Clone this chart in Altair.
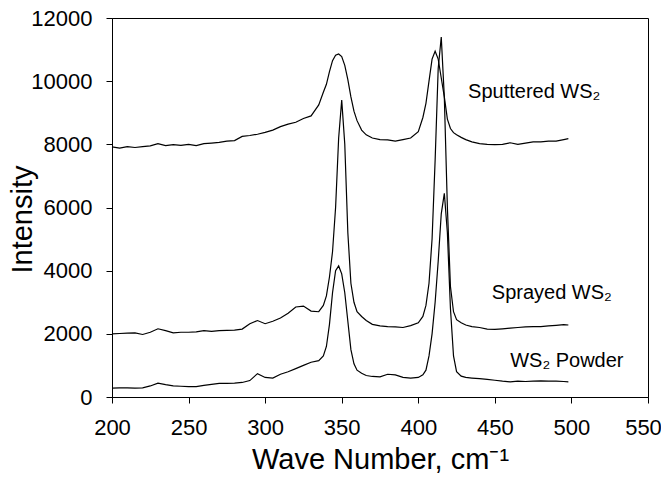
import altair as alt
import pandas as pd

wavenumber = [200,205,210,215,220,225,230,235,240,245,250,255,260,265,270,275,280,285,290,295,
              300,305,310,315,320,325,330,335,338,340,342,344,346,348,350,352,354,356,358,360,
              363,366,370,375,380,385,390,395,400,403,405,407,409,411,413,415,417,419,421,423,
              425,428,431,435,440,445,450,455,460,465,470,475,480,485,490,495,498]

sputtered = [7920,7880,7930,7900,7930,7950,8020,7960,7990,7970,8000,7960,8020,8040,8060,8100,8120,8250,8280,8320,
             8380,8450,8560,8640,8700,8820,8900,9250,9650,9900,10300,10650,10820,10860,10780,10500,10050,9500,9050,8750,
             8450,8300,8200,8150,8140,8100,8150,8200,8400,8850,9300,10000,10700,10950,10700,10100,9500,8800,8500,8370,
             8300,8220,8150,8080,8020,8000,7990,8000,8050,8000,8040,8080,8080,8100,8100,8150,8180]

sprayed = [2000,2010,2020,2030,1980,2050,2160,2100,2030,2050,2050,2060,2100,2080,2100,2110,2120,2150,2320,2420,
           2320,2400,2500,2650,2850,2880,2720,2700,2900,3200,3800,4600,6000,8200,9400,8000,5200,3600,3000,2700,
           2550,2420,2300,2250,2230,2220,2200,2260,2350,2550,2900,3600,5000,7500,10400,11400,9500,6000,3500,2700,
           2450,2350,2280,2230,2200,2150,2140,2160,2180,2200,2220,2230,2230,2250,2270,2290,2280]

powder = [280,290,290,280,290,350,440,390,350,340,330,330,370,400,430,430,440,460,520,740,
          620,600,720,800,900,1000,1100,1150,1300,1600,2300,3300,4000,4150,3900,3300,2400,1500,1050,850,
          750,680,650,640,720,700,620,600,620,700,850,1300,2000,3000,4300,5800,6450,5200,2800,1300,
          800,660,620,600,580,560,530,500,480,500,490,500,510,500,500,490,480]

series_names = ["Sputtered", "Sprayed", "Powder"]

label_text = ["Sputtered WS\u2082", "Sprayed WS\u2082", "WS\u2082 Powder"]
label_x = [432.5, 448, 460]
label_y = [9650, 3280, 1150]

x_ticks = [200, 250, 300, 350, 400, 450, 500, 550]
y_ticks = [0, 2000, 4000, 6000, 8000, 10000, 12000]

rows = []
for name, vals in zip(series_names, [sputtered, sprayed, powder]):
    for x, y in zip(wavenumber, vals):
        rows.append({"series": name, "x": x, "y": y})
df = pd.DataFrame(rows)
labels = pd.DataFrame({"text": label_text, "x": label_x, "y": label_y})

FONT = "Liberation Sans"

xscale = alt.Scale(domain=[200, 550], nice=False, zero=False)
yscale = alt.Scale(domain=[0, 12000], nice=False)

common = dict(grid=False, tickSize=6, labelFlush=False, labelFont=FONT, titleFont=FONT,
              labelFontSize=22, titleFontSize=29, labelColor="black", titleColor="black",
              domainColor="black", tickColor="black", titleFontWeight="normal", format="d")

lines = alt.Chart(df).mark_line(color="black", strokeWidth=1.2).encode(
    x=alt.X("x:Q", scale=xscale,
            axis=alt.Axis(title="Wave Number, cm\u207B\u00B9", values=x_ticks,
                          labelPadding=14, titleY=71, titleBaseline="alphabetic",
                          labelOffset={"condition": {"test": "datum.value == 550", "value": -5}, "value": 0},
                          **common)),
    y=alt.Y("y:Q", scale=yscale,
            axis=alt.Axis(title="Intensity", values=y_ticks, labelPadding=14,
                          titleX=-90, titleY=201, titleAngle=-90, titleAlign="center",
                          titleBaseline="middle", **common)),
    detail="series:N",
    order="x:Q",
)

texts = alt.Chart(labels).mark_text(align="left", baseline="middle", fontSize=20, font=FONT, color="black").encode(
    x=alt.X("x:Q", scale=xscale),
    y=alt.Y("y:Q", scale=yscale),
    text="text:N",
)

chart = alt.layer(lines, texts).properties(
    width=536, height=379,
    padding={"left": 104, "top": 10, "right": 13, "bottom": 76},
    autosize=alt.AutoSizeParams(type="none"),
    background="white",
).configure_view(stroke="black", strokeWidth=1)

chart.save("out.html", embed_options={"renderer": "svg", "actions": False})
